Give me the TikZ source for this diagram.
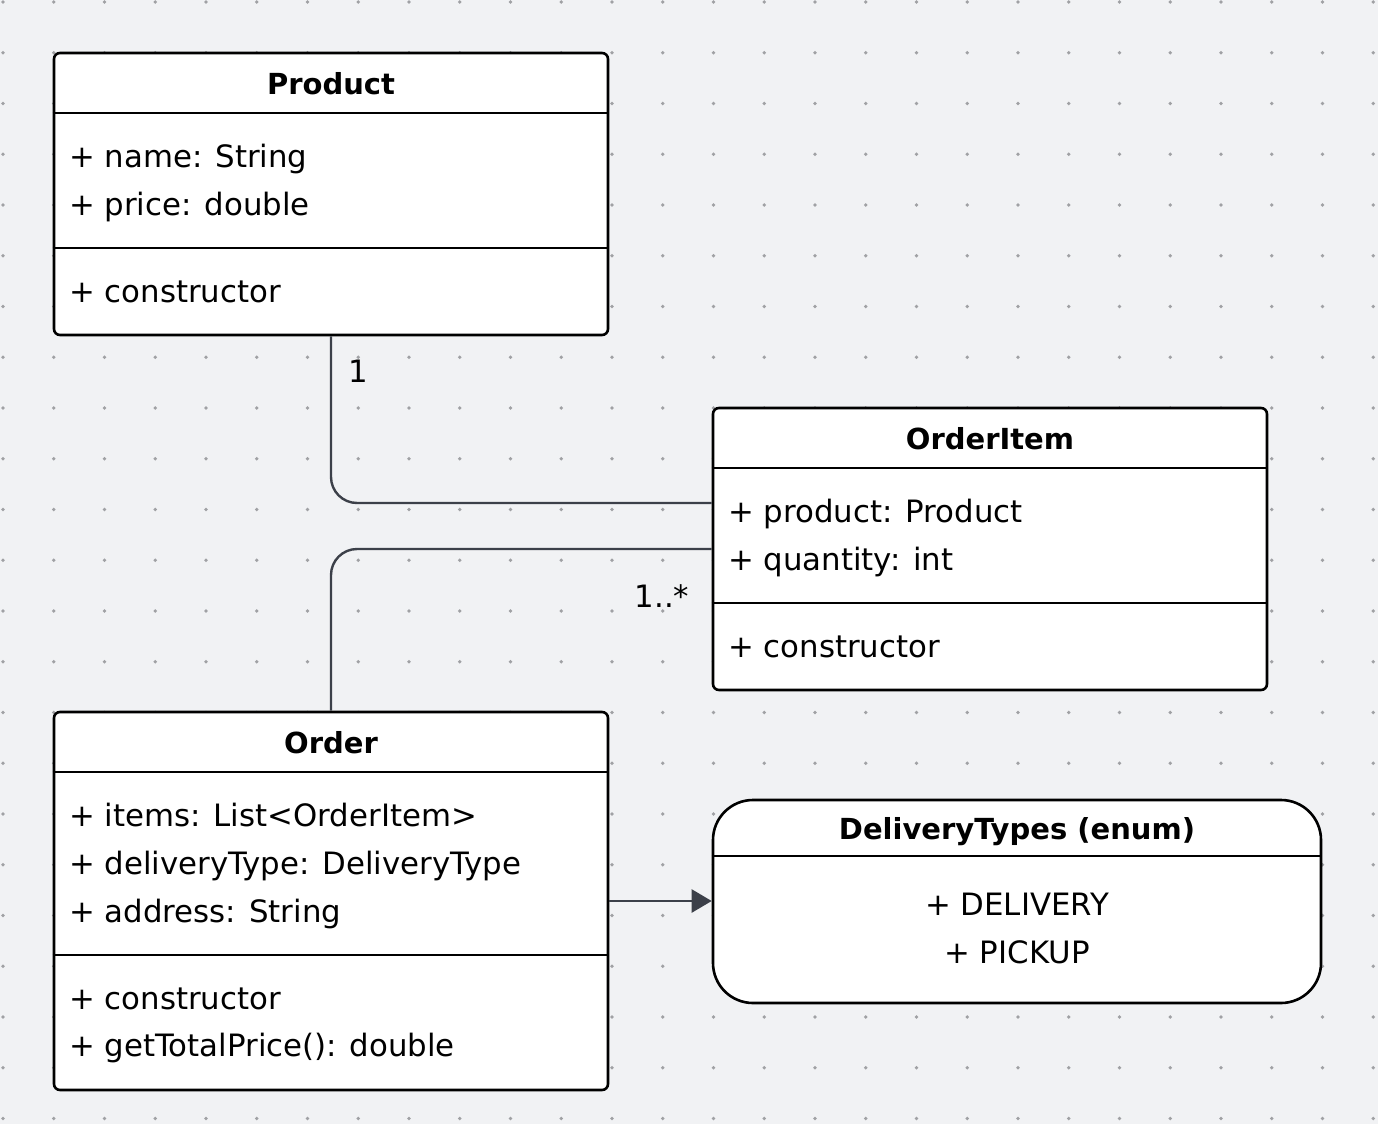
\documentclass[tikz,border=0pt]{standalone}
\usepackage{fontspec}
\setmainfont{DejaVu Sans}
\usepackage{xcolor}
\definecolor{canvasgrey}{HTML}{F1F2F4}
\definecolor{dotgrey}{HTML}{A0A1A4}
\definecolor{linkgrey}{HTML}{3C4049}
\usetikzlibrary{positioning,calc,arrows.meta}

\tikzset{
  classbox/.style={draw=black, line width=2.6pt, fill=white, rounded corners=6pt, inner sep=0pt, minimum width=554pt},
  classname/.style={anchor=base, inner sep=0pt, font=\fontsize{29}{35}\selectfont\bfseries},
  member/.style={anchor=base west, inner sep=0pt, font=\fontsize{30.8}{36}\selectfont},
  enumval/.style={anchor=base, inner sep=0pt, font=\fontsize{30.8}{36}\selectfont},
  divider/.style={line width=2.6pt, black},
  link/.style={line width=2.4pt, linkgrey, rounded corners=26pt},
  mult/.style={anchor=base, inner sep=0pt, font=\fontsize{30.8}{36}\selectfont}
}

\begin{document}
\begin{tikzpicture}[x=1pt, y=-1pt]
	\fill[canvasgrey] (0,0) rectangle (1378,1124);
	\foreach \i in {0,...,27}
		\foreach \j in {0,...,22}
			\fill[dotgrey] (3+50.75*\i, 2+50.75*\j) circle (1.9);

	\node[classbox, minimum height=282pt] (product) at (331,194) {};
	\node[classbox, minimum height=282pt] (orderitem) at (990,549) {};
	\node[classbox, minimum height=378pt] (order) at (331,901) {};
	\node[classbox, minimum width=608pt, minimum height=203pt, rounded corners=40pt] (enum) at (1017,901.5) {};

	\draw[divider] (product.west |- 0,113) -- (product.east |- 0,113);
	\draw[divider] (product.west |- 0,248) -- (product.east |- 0,248);
	\draw[divider] (orderitem.west |- 0,468) -- (orderitem.east |- 0,468);
	\draw[divider] (orderitem.west |- 0,603) -- (orderitem.east |- 0,603);
	\draw[divider] (order.west |- 0,772) -- (order.east |- 0,772);
	\draw[divider] (order.west |- 0,955) -- (order.east |- 0,955);
	\draw[divider] (enum.west |- 0,856) -- (enum.east |- 0,856);

	\node[classname] (product-title) at (331,94) {Product};
	\node[member] (product-name) at (69,167.5) {+ name: String};
	\node[member] (product-price) at (69,215.5) {+ price: double};
	\node[member] (product-ctor) at (69,302.5) {+ constructor};

	\node[classname] (orderitem-title) at (990,449.5) {OrderItem};
	\node[member] (orderitem-product) at (728,522.5) {+ product: Product};
	\node[member] (orderitem-quantity) at (728,570.5) {+ quantity: int};
	\node[member] (orderitem-ctor) at (728,657.5) {+ constructor};

	\node[classname] (order-title) at (331,753) {Order};
	\node[member] (order-items) at (69,826.5) {+ items: List<OrderItem>};
	\node[member] (order-type) at (69,874.5) {+ deliveryType: DeliveryType};
	\node[member] (order-address) at (69,922.5) {+ address: String};
	\node[member] (order-ctor) at (69,1009.5) {+ constructor};
	\node[member] (order-total) at (69,1056.5) {+ getTotalPrice(): double};

	\node[classname] (enum-title) at (1017,839) {DeliveryTypes (enum)};
	\node[enumval] (enum-delivery) at (1017,915.5) {+ DELIVERY};
	\node[enumval] (enum-pickup) at (1017,963.5) {+ PICKUP};

	\draw[link] (product.south) |- ([yshift=46pt]orderitem.west);
	\draw[link] (order.north) |- (orderitem.west);
	\draw[link, -{Triangle[length=20pt, width=23pt]}] (order.east) -- (order.east -| enum.west);

	\node[mult] (product-mult) at (358,382) {1};
	\node[mult] (orderitem-mult) at (662,607) {1..*};
\end{tikzpicture}
\end{document}
